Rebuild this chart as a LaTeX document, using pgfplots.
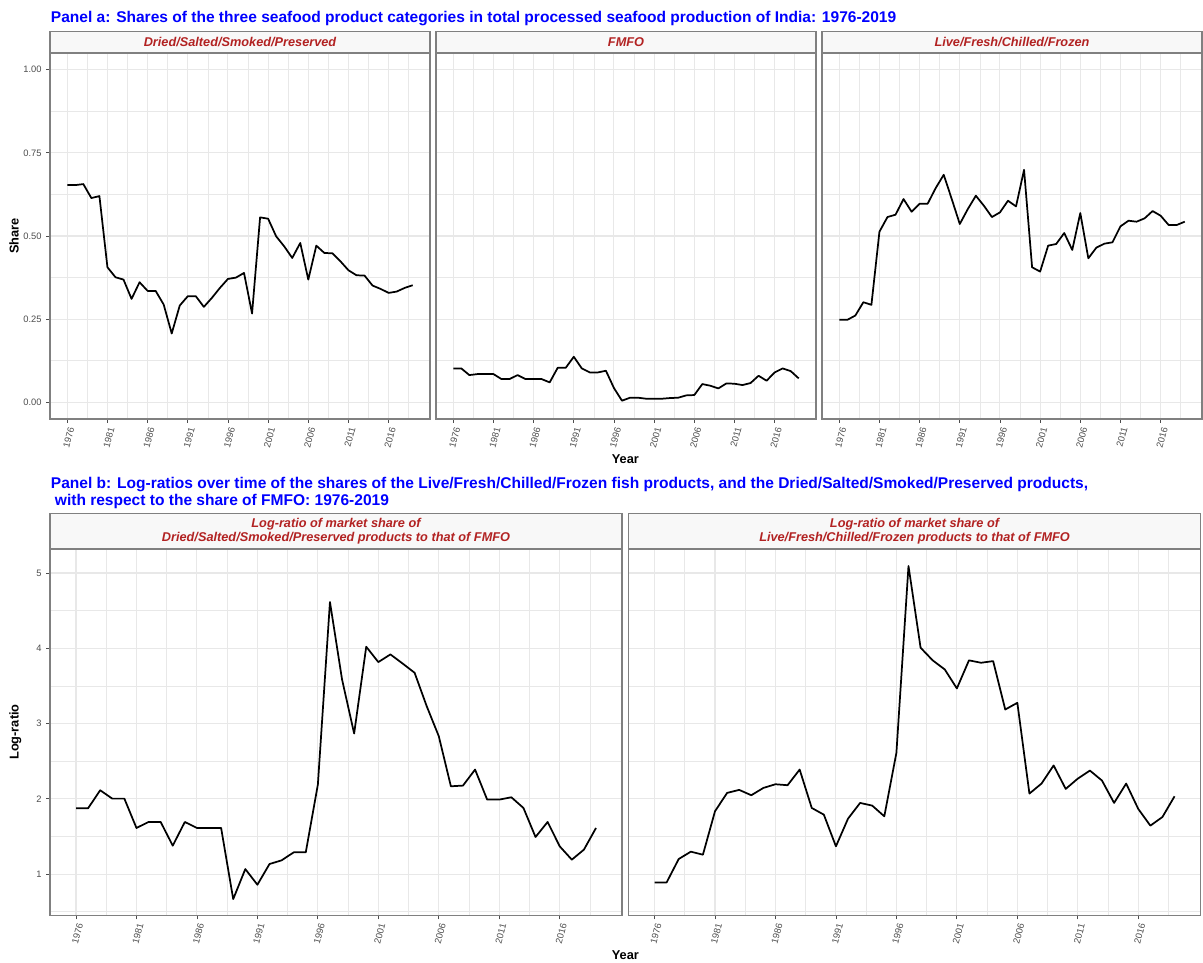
\documentclass[border=0pt]{standalone}
\usepackage{fontspec}
\setmainfont{Liberation Sans}
\usepackage{pgfplots}
\pgfplotsset{compat=1.18}
\usepackage{pgfplotstable}
\definecolor{titleblue}{RGB}{0,0,255}
\definecolor{stripred}{RGB}{178,34,34}
\definecolor{bordercol}{RGB}{128,128,128}
\definecolor{stripfill}{RGB}{248,248,248}
\definecolor{gridcol}{RGB}{232,232,232}
\definecolor{tickgray}{RGB}{77,77,77}

\pgfplotstableread{
year dried fmfo live lrd lrl
1976 0.653 0.102 0.248 1.874 0.889
1977 0.653 0.102 0.248 1.874 0.889
1978 0.656 0.082 0.261 2.113 1.200
1979 0.614 0.085 0.301 2.002 1.297
1980 0.620 0.085 0.293 2.002 1.257
1981 0.406 0.085 0.513 1.612 1.834
1982 0.376 0.070 0.557 1.692 2.078
1983 0.369 0.070 0.564 1.692 2.118
1984 0.311 0.082 0.611 1.377 2.047
1985 0.361 0.070 0.573 1.692 2.144
1986 0.335 0.070 0.597 1.612 2.193
1987 0.335 0.070 0.597 1.612 2.180
1988 0.294 0.060 0.644 1.612 2.388
1989 0.207 0.104 0.684 0.667 1.878
1990 0.291 0.104 0.611 1.066 1.789
1991 0.319 0.137 0.536 0.858 1.368
1992 0.319 0.102 0.581 1.133 1.736
1993 0.287 0.090 0.621 1.182 1.945
1994 0.314 0.090 0.591 1.288 1.909
1995 0.344 0.095 0.557 1.288 1.767
1996 0.371 0.043 0.571 2.188 2.610
1997 0.375 0.005 0.606 4.614 5.093
1998 0.389 0.014 0.589 3.585 4.007
1999 0.267 0.014 0.699 2.867 3.839
2000 0.556 0.011 0.406 4.020 3.718
2001 0.552 0.011 0.393 3.816 3.466
2002 0.499 0.011 0.471 3.918 3.839
2003 0.469 0.013 0.476 3.798 3.807
2004 0.434 0.014 0.509 3.674 3.829
2005 0.479 0.021 0.458 3.230 3.186
2006 0.369 0.022 0.569 2.831 3.275
2007 0.471 0.055 0.433 2.166 2.069
2008 0.449 0.050 0.465 2.175 2.202
2009 0.448 0.042 0.477 2.388 2.443
2010 0.424 0.057 0.481 1.989 2.131
2011 0.397 0.056 0.529 1.989 2.268
2012 0.382 0.052 0.546 2.020 2.375
2013 0.381 0.058 0.543 1.878 2.242
2014 0.351 0.080 0.553 1.492 1.945
2015 0.341 0.065 0.575 1.692 2.202
2016 0.329 0.090 0.561 1.368 1.865
2017 0.333 0.102 0.533 1.191 1.643
2018 0.344 0.094 0.533 1.324 1.758
2019 0.352 0.072 0.543 1.612 2.033
}\data

\pgfplotsset{
  facet/.style={
    scale only axis,
    xmin=1973.85, xmax=2021.15,
    xtick={1976,1981,...,2016},
    minor xtick={1978.5,1983.5,...,2018.5},
    grid=both,
    major grid style={draw=gridcol, line width=0.8pt},
    minor grid style={draw=gridcol, line width=0.45pt},
    axis line style={draw=bordercol, line width=1pt},
    tick align=outside,
    tick pos=left,
    major tick length=2.8pt,
    minor tick length=0pt,
    tick style={draw=tickgray, line width=0.6pt},
    /pgf/number format/1000 sep={},
    /pgf/number format/assume math mode=true,
    xticklabel style={xshift=4pt, rotate=75, anchor=east, font=\fontsize{7}{8}\selectfont, text=tickgray},
    yticklabel style={font=\fontsize{7}{8}\selectfont, text=tickgray},
    every axis title/.style={at={(0.5,1)}, anchor=south, draw=bordercol, line width=1pt,
      fill=stripfill, inner sep=0pt, font=\bfseries\itshape\fontsize{9.55}{10.6}\selectfont,
      text=stripred, align=center},
    cycle list={{black, line width=1.3pt, line join=round}},
  },
  facetA/.style={facet, width=285pt, height=274.5pt, ymin=-0.05, ymax=1.05,
    ytick={0,0.25,...,1}, minor ytick={0.125,0.375,0.625,0.875},
    yticklabel style={/pgf/number format/.cd, fixed, fixed zerofill, precision=2},
    title style={minimum width=285pt, minimum height=15.75pt}},
  facetB/.style={facet, width=429pt, height=274.8pt, ymin=0.446, ymax=5.314,
    ytick={1,2,3,4,5}, minor ytick={0.5,1.5,2.5,3.5,4.5},
    title style={minimum width=429pt, minimum height=26.5pt}},
  noy/.style={yticklabels={}, ytick style={draw=none}},
}

\begin{document}
\begin{tikzpicture}
\useasboundingbox (0,0) rectangle (902.25pt,-722.25pt);

\node[anchor=base west, inner sep=0pt, font=\bfseries\fontsize{11.65}{13}\selectfont, text=titleblue]
  at (38pt,-17pt) {Panel a: Shares of the three seafood product categories in total processed seafood production of India: 1976-2019};

\begin{axis}[facetA, at={(37.5pt,-39.75pt)}, anchor=north west, title={Dried/Salted/Smoked/Preserved}]
\addplot[black, line width=1.3pt, line join=round] table[x=year, y=dried] {\data};
\end{axis}
\begin{axis}[facetA, noy, at={(327pt,-39.75pt)}, anchor=north west, title={FMFO}]
\addplot[black, line width=1.3pt, line join=round] table[x=year, y=fmfo] {\data};
\end{axis}
\begin{axis}[facetA, noy, at={(616.5pt,-39.75pt)}, anchor=north west, title={Live/Fresh/Chilled/Frozen}]
\addplot[black, line width=1.3pt, line join=round] table[x=year, y=live] {\data};
\end{axis}

\node[rotate=90, anchor=base, inner sep=0pt, font=\bfseries\fontsize{9.6}{11}\selectfont] at (14pt,-177pt) {Share};
\node[anchor=base, inner sep=0pt, font=\bfseries\fontsize{9.6}{11}\selectfont] at (469pt,-347.25pt) {Year};

\node[anchor=base west, inner sep=0pt, font=\bfseries\fontsize{11.65}{13}\selectfont, text=titleblue]
  at (38pt,-366.2pt) {Panel b: Log-ratios over time of the shares of the Live/Fresh/Chilled/Frozen fish products, and the Dried/Salted/Smoked/Preserved products,};
\node[anchor=base west, inner sep=0pt, font=\bfseries\fontsize{11.65}{13}\selectfont, text=titleblue]
  at (41pt,-378.75pt) {with respect to the share of FMFO: 1976-2019};

\begin{axis}[facetB, at={(37.5pt,-412pt)}, anchor=north west,
  title={Log-ratio of market share of\\Dried/Salted/Smoked/Preserved products to that of FMFO}]
\addplot[black, line width=1.3pt, line join=round] table[x=year, y=lrd] {\data};
\end{axis}
\begin{axis}[facetB, noy, at={(471.4pt,-412pt)}, anchor=north west,
  title={Log-ratio of market share of\\Live/Fresh/Chilled/Frozen products to that of FMFO}]
\addplot[black, line width=1.3pt, line join=round] table[x=year, y=lrl] {\data};
\end{axis}

\node[rotate=90, anchor=base, inner sep=0pt, font=\bfseries\fontsize{9.6}{11}\selectfont] at (14pt,-549pt) {Log-ratio};
\node[anchor=base, inner sep=0pt, font=\bfseries\fontsize{9.6}{11}\selectfont] at (469pt,-719.5pt) {Year};
\end{tikzpicture}
\end{document}
